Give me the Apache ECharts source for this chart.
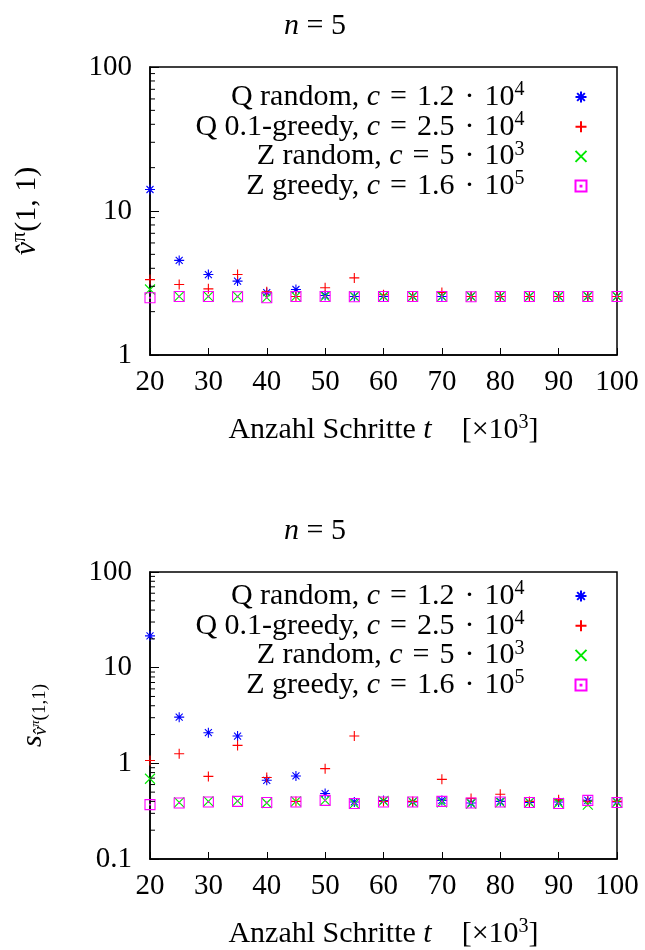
<!DOCTYPE html>
<html><head><meta charset="utf-8">
<script src="https://cdn.jsdelivr.net/npm/echarts@6/dist/echarts.min.js"></script>
<style>html,body{margin:0;padding:0;background:#fff}#c{width:645px;height:950px}</style>
</head><body><div id="c"></div>
<script>
const steps = [20,25,30,35,40,45,50,55,60,65,70,75,80,85,90,95,100];
const seriesNames = ['Q random', 'Q 0.1-greedy', 'Z random', 'Z greedy'];
const legendC = ['1.2\u2004·\u200410{sup|4}', '2.5\u2004·\u200410{sup|4}', '5\u2004·\u200410{sup|3}', '1.6\u2004·\u200410{sup|5}'];
// top panel: estimated value v^pi(1,1)
const vQrandom = [14.1,4.54,3.62,3.26,2.71,2.85,2.59,2.55,2.55,2.55,2.55,2.55,2.55,2.55,2.55,2.55,2.55];
const vQgreedy = [3.34,3.09,2.88,3.62,2.75,2.55,2.93,3.43,2.62,2.55,2.72,2.55,2.55,2.55,2.55,2.55,2.55];
const vZrandom = [2.85,2.55,2.55,2.55,2.5,2.55,2.55,2.55,2.55,2.55,2.55,2.55,2.55,2.55,2.55,2.55,2.55];
const vZgreedy = [2.5,2.55,2.55,2.54,2.5,2.55,2.55,2.54,2.55,2.55,2.55,2.54,2.55,2.55,2.55,2.55,2.55];
// bottom panel: standard deviation
const sQrandom = [21.5,3.04,2.09,1.93,0.665,0.738,0.483,0.395,0.408,0.395,0.41,0.385,0.40,0.39,0.395,0.41,0.395];
const sQgreedy = [1.07,1.26,0.73,1.54,0.71,0.40,0.88,1.93,0.40,0.40,0.68,0.43,0.475,0.40,0.415,0.40,0.40];
const sZrandom = [0.69,0.39,0.40,0.405,0.385,0.40,0.41,0.38,0.405,0.395,0.39,0.38,0.39,0.39,0.385,0.37,0.39];
const sZgreedy = [0.37,0.385,0.395,0.40,0.39,0.395,0.41,0.38,0.395,0.395,0.40,0.385,0.395,0.39,0.38,0.41,0.39];
const xTicks = [20,30,40,50,60,70,80,90,100];
const minorTop = [2,3,4,5,6,7,8,9,20,30,40,50,60,70,80,90];
const minorBot = [0.2,0.3,0.4,0.5,0.6,0.7,0.8,0.9,2,3,4,5,6,7,8,9,20,30,40,50,60,70,80,90];

const FONT = 'Liberation Serif';
const FS = 30;
const colors = ['#0000ff','#ff0000','#00e800','#ff00ff'];
const symbols = [
  'path://M5,0 L5,10 M0,5 L10,5 M1.5,1.5 L8.5,8.5 M8.5,1.5 L1.5,8.5',
  'path://M5,0 L5,10 M0,5 L10,5',
  'path://M0,0 L10,10 M10,0 L0,10',
  'path://M0,0 L10,0 L10,10 L0,10 Z M4.6,4.6 L5.4,4.6 L5.4,5.4 L4.6,5.4 Z'
];
const topData = [vQrandom, vQgreedy, vZrandom, vZgreedy];
const botData = [sQrandom, sQgreedy, sZrandom, sZgreedy];

const chart = echarts.init(document.getElementById('c'), null, {renderer:'canvas'});
const rich = {
  it: {fontFamily: FONT, fontStyle: 'italic', fontSize: FS, color:'#000'},
  sup: {fontFamily: FONT, fontSize: 20, padding:[0,0,14,0], color:'#000'},
  sub: {fontFamily: FONT, fontSize: 19, padding:[14,0,0,0], color:'#000'},
  subit: {fontFamily: FONT, fontStyle:'italic', fontSize: 19, padding:[14,0,0,0], color:'#000'},
  subsup: {fontFamily: FONT, fontStyle:'italic', fontSize: 13, padding:[4,0,0,0], color:'#000'}
};
function legendFmt(name){
  const i = seriesNames.indexOf(name);
  return name + ', {it|c}\u2004=\u2004' + legendC[i];
}
function makeGrid(top){ return {left:150, top:top, width:467, height:288, show:true, borderColor:'#000', borderWidth:1.5, backgroundColor:'transparent'}; }
function makeX(gi){
  return {type:'value', gridIndex:gi, min:20, max:100, interval:10,
    axisLine:{show:true, onZero:false, lineStyle:{color:'#000', width:1.5}},
    axisTick:{show:true, inside:true, length:7, lineStyle:{color:'#000', width:1}},
    axisLabel:{color:'#000', fontFamily:FONT, fontSize:FS-1, margin:13},
    splitLine:{show:false},
    name:'Anzahl Schritte {it|t}    [×10{sup|3}]', nameLocation:'middle', nameGap:58,
    nameTextStyle:{color:'#000', fontFamily:FONT, fontSize:FS, rich:rich}};
}
function makeY(gi, min, max, name, gap){
  return {type:'log', logBase:10, gridIndex:gi, min:min, max:max,
    axisLine:{show:true, onZero:false, lineStyle:{color:'#000', width:1.5}},
    axisTick:{show:true, inside:true, length:9, lineStyle:{color:'#000', width:1}},
    axisLabel:{color:'#000', fontFamily:FONT, fontSize:FS-1, margin:18, formatter: v => String(v)},
    splitLine:{show:false},
    name:name, nameLocation:'middle', nameGap:gap, nameRotate:90,
    nameTextStyle:{color:'#000', fontFamily:FONT, fontSize:FS, rich:rich}};
}
const series = [];
[topData, botData].forEach((panel, gi) => {
  panel.forEach((vals, si) => {
    series.push({name: seriesNames[si], type:'scatter', xAxisIndex:gi, yAxisIndex:gi,
      symbol: symbols[si], symbolSize: 10,
      itemStyle:{color:'none', borderColor: colors[si], borderWidth: 1.1, opacity:1},
      emphasis:{disabled:true},
      data: steps.map((s, k) => [s, vals[k]])});
  });
  const minors = gi === 0 ? minorTop : minorBot;
  series.push({type:'custom', xAxisIndex:gi, yAxisIndex:gi, silent:true, z:5,
    data: minors.map(v => [20, v]),
    renderItem: (params, api) => {
      const p = api.coord([api.value(0), api.value(1)]);
      return {type:'line', shape:{x1:p[0], y1:p[1], x2:p[0]+5, y2:p[1]}, style:{stroke:'#000', lineWidth:1}};
    }});
});
function makeLegend(top){
  return {orient:'vertical', right:51, top:top, align:'right', itemWidth:11, itemHeight:11, itemGap:-2.3,
    data: seriesNames, selectedMode:false, formatter: legendFmt,
    textStyle:{color:'#000', fontFamily:FONT, fontSize:FS, lineHeight:30, padding:[0,46,0,0], rich:rich}};
}
chart.setOption({
  animation:false,
  backgroundColor:'#fff',
  title:[
    {text:'{it|n} = 5', left:310, top:6, textAlign:'center', textStyle:{fontFamily:FONT, fontSize:FS, fontWeight:'normal', color:'#000', rich:rich}},
    {text:'{it|n} = 5', left:310, top:511, textAlign:'center', textStyle:{fontFamily:FONT, fontSize:FS, fontWeight:'normal', color:'#000', rich:rich}}
  ],
  grid:[makeGrid(67), makeGrid(572)],
  xAxis:[makeX(0), makeX(1)],
  yAxis:[makeY(0, 1, 100, '{it|v̂}{sup|π}(1, 1)', 106), makeY(1, 0.1, 100, '{it|s}{subit|v̂}{subsup|π}{sub|(1,1)}', 100)],
  legend:[makeLegend(75), makeLegend(574)],
  series: series
});
</script></body></html>
